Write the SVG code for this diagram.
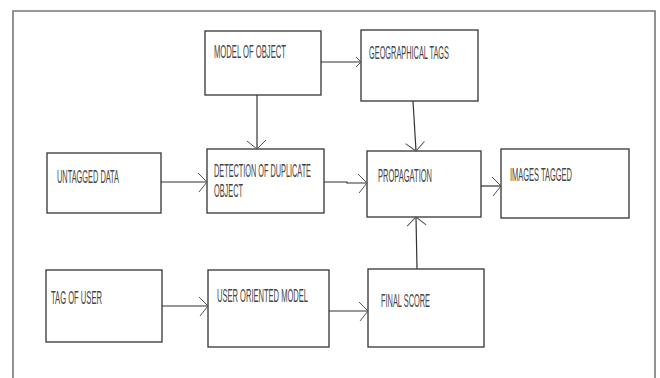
<svg xmlns="http://www.w3.org/2000/svg" width="660" height="378" viewBox="0 0 660 378">
<style>
.box{fill:#fff;stroke:#333;stroke-width:1.3}
.lbl{font-family:"Liberation Sans",Arial,sans-serif;font-size:12px;fill:#444}
.con{fill:none;stroke:#333;stroke-width:1.2}
</style>
<defs>
<marker id="ah" viewBox="0 0 12 22" markerWidth="12" markerHeight="22" refX="10" refY="11" orient="auto" markerUnits="userSpaceOnUse">
<path d="M1,2 L10,11 L2,21" fill="none" stroke="#555" stroke-width="1"/>
</marker>
<marker id="ahs" viewBox="0 0 8 14" markerWidth="8" markerHeight="14" refX="7" refY="7" orient="auto" markerUnits="userSpaceOnUse">
<path d="M2,2 L7,7 L2,12" fill="none" stroke="#555" stroke-width="1"/>
</marker>
</defs>
<rect width="660" height="378" fill="#fff"/>
<path d="M13,378 V11 H655 V378" fill="none" stroke="#777" stroke-width="1.6"/>
<g id="n-model"><rect class="box" x="205" y="31" width="116" height="64"/><text class="lbl" transform="translate(214,58) scale(1,1.5)" textLength="72" lengthAdjust="spacingAndGlyphs">MODEL OF OBJECT</text></g>
<g id="n-geo"><rect class="box" x="361" y="30" width="117" height="71"/><text class="lbl" transform="translate(369,59) scale(1,1.5)" textLength="80" lengthAdjust="spacingAndGlyphs">GEOGRAPHICAL TAGS</text></g>
<g id="n-untagged"><rect class="box" x="47" y="153" width="114" height="60"/><text class="lbl" transform="translate(57,183) scale(1,1.5)" textLength="62" lengthAdjust="spacingAndGlyphs">UNTAGGED DATA</text></g>
<g id="n-detect"><rect class="box" x="207" y="149" width="117" height="64"/><text class="lbl" transform="translate(214,177) scale(1,1.5)" textLength="97" lengthAdjust="spacingAndGlyphs">DETECTION OF DUPLICATE</text><text class="lbl" transform="translate(214,197) scale(1,1.5)" textLength="29" lengthAdjust="spacingAndGlyphs">OBJECT</text></g>
<g id="n-prop"><rect class="box" x="367" y="151" width="114" height="66"/><text class="lbl" transform="translate(378,182) scale(1,1.5)" textLength="54" lengthAdjust="spacingAndGlyphs">PROPAGATION</text></g>
<g id="n-images"><rect class="box" x="501" y="149" width="128" height="69"/><text class="lbl" transform="translate(510,181) scale(1,1.5)" textLength="62" lengthAdjust="spacingAndGlyphs">IMAGES TAGGED</text></g>
<g id="n-taguser"><rect class="box" x="46" y="270" width="116" height="72"/><text class="lbl" transform="translate(51,304) scale(1,1.5)" textLength="51" lengthAdjust="spacingAndGlyphs">TAG OF USER</text></g>
<g id="n-usermodel"><rect class="box" x="208" y="270" width="121" height="77"/><text class="lbl" transform="translate(217,302) scale(1,1.5)" textLength="91" lengthAdjust="spacingAndGlyphs">USER ORIENTED MODEL</text></g>
<g id="n-final"><rect class="box" x="368" y="269" width="116" height="78"/><text class="lbl" transform="translate(381,307) scale(1,1.5)" textLength="49" lengthAdjust="spacingAndGlyphs">FINAL SCORE</text></g>
<g id="connectors">
<path class="con" d="M321,62 H361" marker-end="url(#ahs)"/>
<path class="con" d="M257,95 V149" marker-end="url(#ah)"/>
<path class="con" d="M413,101 L416,151" marker-end="url(#ah)"/>
<path class="con" d="M161,182 H207" marker-end="url(#ah)"/>
<path class="con" d="M324,182 H347 V183 H367" marker-end="url(#ah)"/>
<path class="con" d="M481,186 H501" marker-end="url(#ah)"/>
<path class="con" d="M417,269 L416,217" marker-end="url(#ah)"/>
<path class="con" d="M162,306 H208" marker-end="url(#ah)"/>
<path class="con" d="M329,311 H368" marker-end="url(#ah)"/>
</g>
</svg>
